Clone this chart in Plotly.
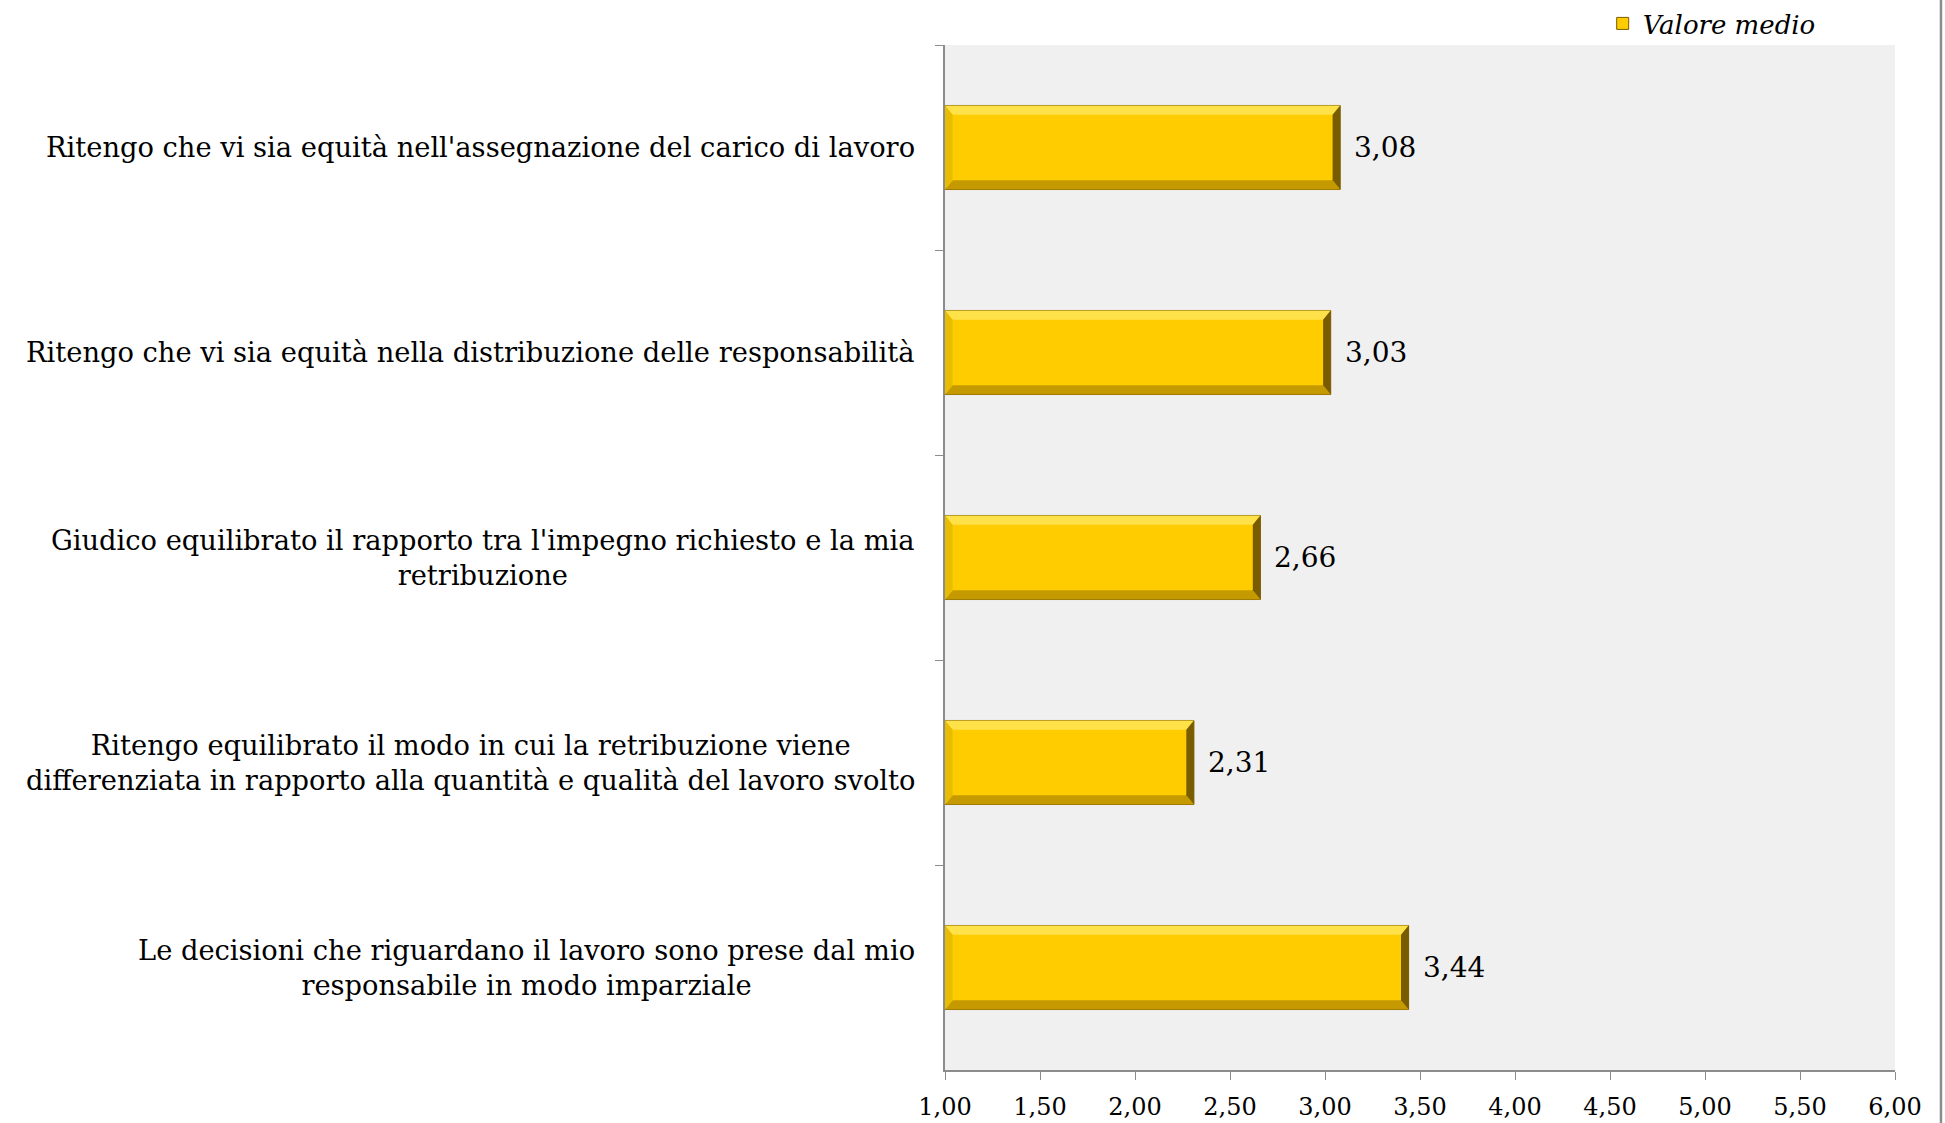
import plotly.graph_objects as go

categories = [
    "Ritengo che vi sia equità nell'assegnazione del carico di lavoro",
    "Ritengo che vi sia equità nella distribuzione delle responsabilità",
    "Giudico equilibrato il rapporto tra l'impegno richiesto e la mia<br>retribuzione",
    "Ritengo equilibrato il modo in cui la retribuzione viene<br>differenziata in rapporto alla quantità e qualità del lavoro svolto",
    "Le decisioni che riguardano il lavoro sono prese dal mio<br>responsabile in modo imparziale",
]
values = [3.08, 3.03, 2.66, 2.31, 3.44]
series_name = "Valore medio"
x_ticks = [1.0, 1.5, 2.0, 2.5, 3.0, 3.5, 4.0, 4.5, 5.0, 5.5, 6.0]

FONT = "Georgia, 'DejaVu Serif', serif"
AXIS_MIN, AXIS_MAX = 1.0, 6.0
BAR_W = 0.41
idx = list(range(len(categories)))

fig = go.Figure()
fig.add_trace(go.Bar(
    y=idx, x=[v - AXIS_MIN for v in values], base=AXIS_MIN, orientation="h",
    width=BAR_W, name="<i>" + series_name + "</i>",
    marker=dict(color="#FFCC00", line=dict(color="#7A5C00", width=1)),
    customdata=values, hovertemplate="%{customdata:.2f}<extra></extra>",
    showlegend=True,
))

shapes = []
annotations = []
dx, dy = 0.04, 0.045
for i, v in enumerate(values):
    x0, x1 = AXIS_MIN, v
    y0, y1 = i - BAR_W / 2, i + BAR_W / 2
    shapes.append(dict(type="path", xref="x", yref="y", layer="above",
                       path=f"M {x0},{y0} L {x1},{y0} L {x1-dx},{y0+dy} L {x0+dx},{y0+dy} Z",
                       fillcolor="#FFE24A", line=dict(width=0)))
    shapes.append(dict(type="path", xref="x", yref="y", layer="above",
                       path=f"M {x0},{y1} L {x1},{y1} L {x1-dx},{y1-dy} L {x0+dx},{y1-dy} Z",
                       fillcolor="#C49A00", line=dict(width=0)))
    shapes.append(dict(type="path", xref="x", yref="y", layer="above",
                       path=f"M {x1},{y0} L {x1},{y1} L {x1-dx},{y1-dy} L {x1-dx},{y0+dy} Z",
                       fillcolor="#7A5C00", line=dict(width=0)))
    shapes.append(dict(type="path", xref="x", yref="y", layer="above",
                       path=f"M {x0},{y0} L {x0},{y1} L {x0+dx},{y1-dy} L {x0+dx},{y0+dy} Z",
                       fillcolor="#E8BC00", line=dict(width=0)))
    annotations.append(dict(x=v, y=i, xref="x", yref="y", text=f"{v:.2f}".replace(".", ","),
                            showarrow=False, xanchor="left", xshift=12,
                            font=dict(family=FONT, size=28, color="#000000")))
    annotations.append(dict(x=0, y=i, xref="paper", yref="y", text=categories[i],
                            showarrow=False, xanchor="right", align="center", xshift=-28,
                            font=dict(family=FONT, size=27.3, color="#000000")))

shapes.append(dict(type="line", xref="paper", yref="paper", x0=1.0484, x1=1.0484,
                   y0=-0.06, y1=1.05, line=dict(color="#8C8C8C", width=2.5)))

fig.update_layout(
    width=1945, height=1123,
    margin=dict(l=945, r=50, t=45, b=53, autoexpand=False),
    paper_bgcolor="#FFFFFF", plot_bgcolor="#F0F0F0",
    separators=",.",
    shapes=shapes, annotations=annotations,
    showlegend=True,
    legend=dict(xref="container", yref="container", x=0.824, y=1.0,
                xanchor="left", yanchor="top",
                font=dict(family=FONT, size=26, color="#000000"),
                bgcolor="rgba(0,0,0,0)", orientation="h", itemwidth=30,
                tracegroupgap=0),
    font=dict(family=FONT, color="#000000"),
)
fig.update_xaxes(range=[AXIS_MIN, AXIS_MAX], tickvals=x_ticks, tickformat=".2f",
                 ticks="outside", ticklen=8, tickcolor="#8C8C8C", showgrid=False,
                 showline=True, linecolor="#8C8C8C", linewidth=1.5, zeroline=False,
                 ticklabelstandoff=6,
                 tickfont=dict(family=FONT, size=24, color="#000000"))
fig.update_yaxes(range=[len(categories) - 0.5, -0.5], tickvals=idx, showticklabels=False,
                 ticks="", showgrid=False, showline=True, linecolor="#8C8C8C",
                 linewidth=1.5, zeroline=False,
                 minor=dict(tickvals=[i + 0.5 for i in idx[:-1]] + [-0.5], ticks="outside",
                            ticklen=8, tickcolor="#8C8C8C", showgrid=False))

fig.write_html("out.html", config={"displayModeBar": False},
               post_script="document.body.style.margin='0px';")
